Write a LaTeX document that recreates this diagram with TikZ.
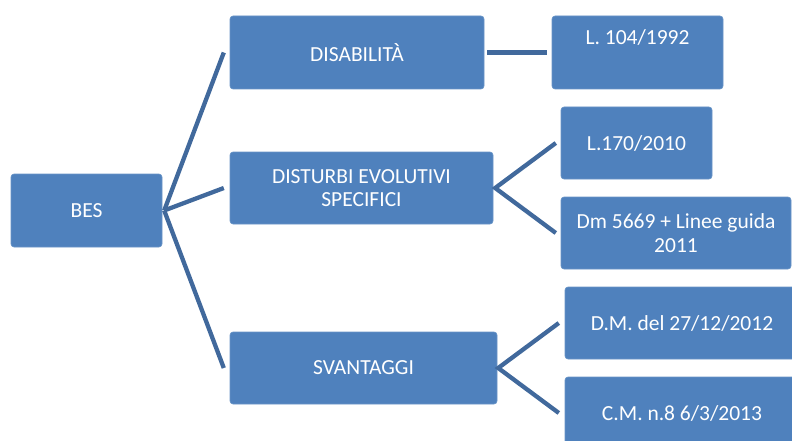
\documentclass[tikz,border=0pt]{standalone}
\usepackage{fontspec}
\setmainfont{Carlito}
\definecolor{boxblue}{HTML}{4F81BD}
\definecolor{lineblue}{HTML}{41699C}
\begin{document}
\begin{tikzpicture}[x=1pt,y=-1pt,
  box/.style={fill=boxblue, draw=boxblue!85!white, line width=0.6pt, rounded corners=3pt, inner sep=0pt},
  lbl/.style={text=white, font=\fontsize{21.5}{23.5}\selectfont, align=center, inner sep=0pt},
  conn/.style={draw=lineblue, line width=4.3pt}]
\path[use as bounding box] (0,0) rectangle (792,441);
\begin{scope}
\clip (0,0) rectangle (792,441);
% boxes
\path[box] (11,174) rectangle (162,247);
\path[box] (230,16) rectangle (484,89);
\path[box] (230,152) rectangle (493,224);
\path[box] (230,332) rectangle (497,404);
\path[box] (552,16) rectangle (723,89);
\path[box] (561,107) rectangle (712,179);
\path[box] (561,197) rectangle (791,269);
\path[box] (565,287) rectangle (795,359);
\path[box] (565,377) rectangle (795,449);
% named anchors
\node[inner sep=0pt, minimum width=151pt, minimum height=73pt] (bes) at (86.5,210.5) {};
\node[inner sep=0pt, minimum width=254pt, minimum height=73pt] (dis) at (357,52.5) {};
\node[inner sep=0pt, minimum width=263pt, minimum height=72pt] (dist) at (361.5,188) {};
\node[inner sep=0pt, minimum width=267pt, minimum height=72pt] (svan) at (363.5,368) {};
\node[inner sep=0pt, minimum width=171pt, minimum height=73pt] (l104) at (637.5,52.5) {};
\node[inner sep=0pt, minimum width=151pt, minimum height=72pt] (l170) at (636.5,143) {};
\node[inner sep=0pt, minimum width=230pt, minimum height=72pt] (dm) at (676,233) {};
\node[inner sep=0pt, minimum width=230pt, minimum height=72pt] (dmdel) at (680,323) {};
\node[inner sep=0pt, minimum width=230pt, minimum height=72pt] (cm) at (680,413) {};
% labels
\node[lbl] at (bes.center) {BES};
\node[lbl] at (dis.center) {DISABILITÀ};
\node[lbl] at (dist.center) {DISTURBI EVOLUTIVI\\SPECIFICI};
\node[lbl] at (svan.center) {SVANTAGGI};
\node[lbl] at (637.5,37) {L. 104/1992};
\node[lbl] at (l170.center) {L.170/2010};
\node[lbl] at (dm.center) {Dm 5669 + Linee guida\\2011};
\node[lbl] at (682,323) {D.M. del 27/12/2012};
\node[lbl] at (682,413) {C.M. n.8 6/3/2013};
% connectors
\coordinate (v0) at ([xshift=2pt]bes.east);
\draw[conn] (v0) -- ([xshift=-6pt]dis.west);
\draw[conn] (v0) -- ([xshift=-6pt]dist.west);
\draw[conn] (v0) -- ([xshift=-6pt]svan.west);
\draw[conn] ([xshift=3pt]dis.east) -- ([xshift=-5pt]l104.west);
\coordinate (v1) at ([xshift=2pt]dist.east);
\draw[conn] ([xshift=-5pt]l170.west) -- (v1) -- ([xshift=-5pt]dm.west);
\coordinate (v2) at ([xshift=1pt]svan.east);
\draw[conn] ([xshift=-6pt]dmdel.west) -- (v2) -- ([xshift=-6pt]cm.west);
\end{scope}
\end{tikzpicture}
\end{document}
